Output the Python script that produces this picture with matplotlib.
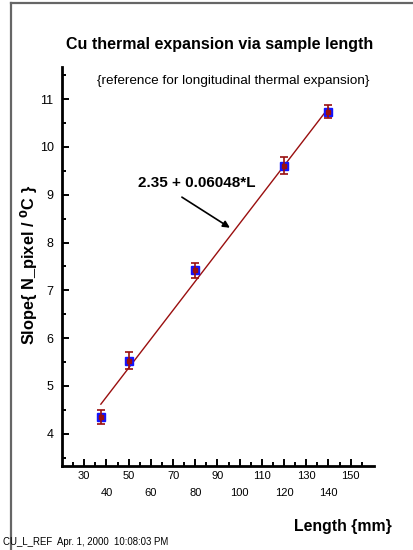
import numpy as np
import matplotlib
matplotlib.use("Agg")
import matplotlib.pyplot as plt
from matplotlib.lines import Line2D

plt.rcParams['font.family'] = ['Liberation Sans', 'DejaVu Sans']

# sample length (mm), fitted slope and its error
length = [37.5, 50, 80, 120, 140]
slope = [4.35, 5.53, 7.42, 9.61, 10.74]
slope_err = [0.14, 0.17, 0.16, 0.18, 0.13]

fit_a = 2.35
fit_b = 0.06048

x_major = [30, 40, 50, 60, 70, 80, 90, 100, 110, 120, 130, 140, 150]
y_major = [4, 5, 6, 7, 8, 9, 10, 11]

W, H = 414, 550
fig = plt.figure(figsize=(W / 100, H / 100), dpi=100)
ax = fig.add_axes([62 / W, 1 - 465.7 / H, (374 - 62) / W, (465.7 - 66.7) / H])

red = '#9a0f0f'
blue = '#1414ff'

# linear fit over the measured range
lx = np.array([min(length), max(length)])
ax.plot(lx, fit_a + fit_b * lx, color=red, lw=1.0, zorder=2)

ax.plot(length, slope, 's', color=blue, ms=6.2, mec=blue, zorder=3)
ax.errorbar(length, slope, yerr=slope_err, fmt='s', ms=2.5, color=red,
            mec=red, ecolor=red, elinewidth=1.2, capsize=3.2, capthick=1.2,
            zorder=4)

ax.set_xlim(20, 160.5)
ax.set_ylim(3.33, 11.68)

ax.set_xticks(x_major)
ax.set_xticklabels([str(v) if i % 2 == 0 else '\n' + str(v)
                    for i, v in enumerate(x_major)], fontsize=8)
for t in ax.get_xticklabels():
    t.set_linespacing(1.8)
ax.set_xticks(np.arange(25, 160, 10), minor=True)
ax.set_yticks(y_major)
ax.set_yticklabels([str(v) for v in y_major], fontsize=9)
ax.set_yticks(np.arange(3.5, 11.6, 1.0), minor=True)

ax.tick_params(which='both', direction='in', width=1.4, top=False, right=False)
ax.tick_params(which='major', length=5)
ax.tick_params(which='minor', length=3)
ax.tick_params(axis='x', pad=4)
ax.tick_params(axis='y', pad=6)

for s in ['top', 'right']:
    ax.spines[s].set_visible(False)
for s in ['left', 'bottom']:
    ax.spines[s].set_linewidth(2.0)

# fit label with arrow
ax.text(80.6, 9.25, '2.35 + 0.06048*L', ha='center', va='center',
        fontsize=11, fontweight='bold')
ax.annotate('', xy=(95.6, 8.31), xytext=(74.0, 8.95),
            arrowprops=dict(arrowstyle='-|>', color='black', lw=1.2,
                            mutation_scale=10, shrinkA=0, shrinkB=0))

fig.text(219.5 / W, 1 - 45 / H, 'Cu thermal expansion via sample length',
         ha='center', va='center', fontsize=11.5, fontweight='bold')
fig.text(233.3 / W, 1 - 81 / H, '{reference for longitudinal thermal expansion}',
         ha='center', va='center', fontsize=9.7)
fig.text(29 / W, 1 - 265 / H, r'Slope{ N_pixel / $^{\mathbf{0}}$C }',
         ha='center', va='center', rotation=90, fontsize=11.8, fontweight='bold')
fig.text(342.5 / W, 1 - 526.7 / H, 'Length {mm}',
         ha='center', va='center', fontsize=11.4, fontweight='bold')
fig.text(3 / W, 1 - 542 / H, 'CU_L_REF  Apr. 1, 2000  10:08:03 PM',
         ha='left', va='center', fontsize=6.9)

# page frame
fig.add_artist(Line2D([10.5 / W, 10.5 / W], [0, 1 - 2.5 / H],
                      transform=fig.transFigure, color='#666666', lw=1.6))
fig.add_artist(Line2D([10.5 / W, 1], [1 - 2.5 / H, 1 - 2.5 / H],
                      transform=fig.transFigure, color='#666666', lw=1.6))

fig.savefig('out.png', dpi=100)
